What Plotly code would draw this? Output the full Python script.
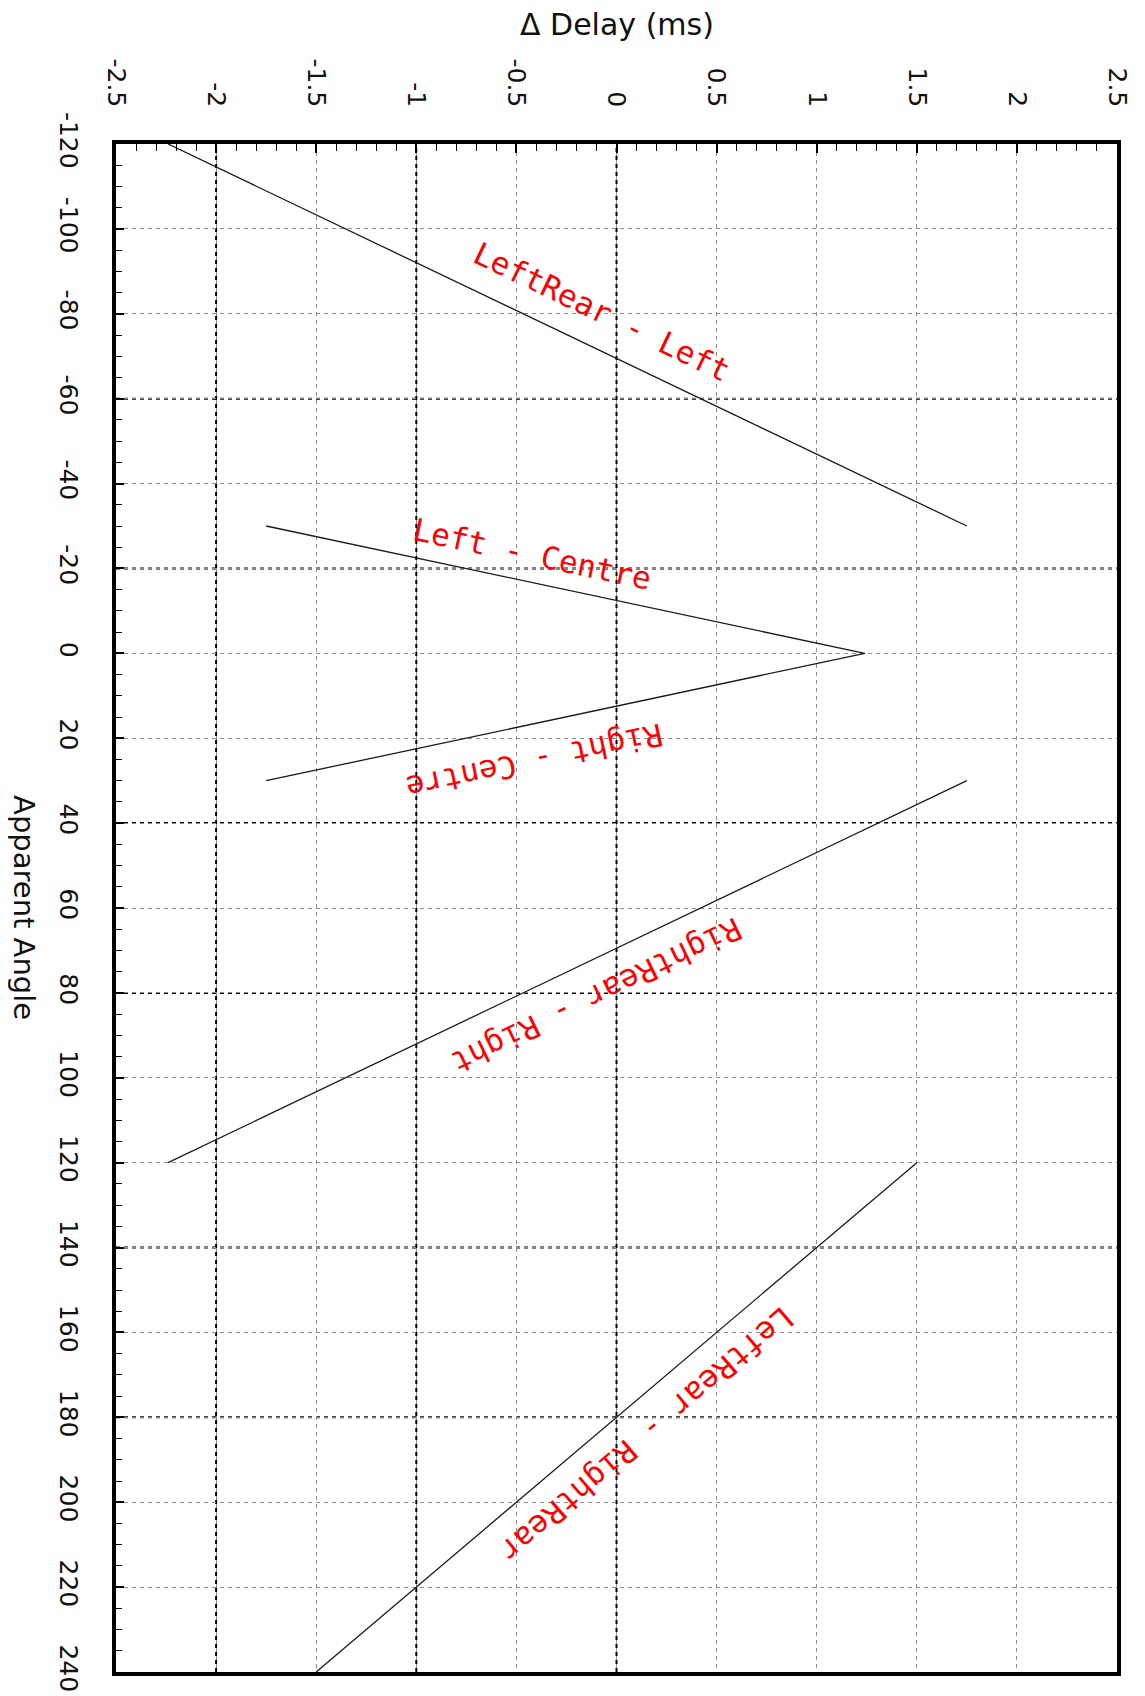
import plotly.graph_objects as go

# ---------------- data ----------------
# Apparent angle (deg) vs. delta delay (ms) for each speaker pair
lrear_left_angle = [-120, -30]
lrear_left_delay = [-2.24, 1.75]

left_centre_angle = [-30, 0]
left_centre_delay = [-1.75, 1.24]

right_centre_angle = [0, 30]
right_centre_delay = [1.24, -1.75]

rrear_right_angle = [30, 120]
rrear_right_delay = [1.75, -2.24]

lrear_rrear_angle = [120, 240]
lrear_rrear_delay = [1.5, -1.5]

series_labels = ["LeftRear - Left", "Left - Centre", "Right - Centre",
                 "RightRear - Right", "LeftRear - RightRear"]

delay_ticks = [-2.5, -2, -1.5, -1, -0.5, 0, 0.5, 1, 1.5, 2, 2.5]
delay_ticktext = ["-2.5", "-2", "-1.5", "-1", "-0.5", "0", "0.5", "1", "1.5", "2", "2.5"]
angle_ticks = [-120, -100, -80, -60, -40, -20, 0, 20, 40, 60, 80, 100, 120,
               140, 160, 180, 200, 220, 240]
angle_ticktext = [str(a) for a in angle_ticks]

# gridlines that appear darker in the original rendering
dark_delay_grid = [-2, -1, 0]
dark_angle_grid = [-60, -20, 40, 80, 140, 180]

# ---------------- figure ----------------
fig = go.Figure()
pairs = [
    (lrear_left_delay, lrear_left_angle),
    (left_centre_delay, left_centre_angle),
    (right_centre_delay, right_centre_angle),
    (rrear_right_delay, rrear_right_angle),
    (lrear_rrear_delay, lrear_rrear_angle),
]
for (d, a), name in zip(pairs, series_labels):
    fig.add_trace(go.Scatter(x=d, y=a, mode="lines", name=name,
                             line=dict(color="#1a1a1a", width=1.3),
                             showlegend=False, hoverinfo="skip"))

# label placement (style): centre in data coords + rotation
label_style = [
    dict(x=-0.07, y=-80.5, angle=25.7),
    dict(x=-0.42, y=-23.5, angle=12.0),
    dict(x=-0.41, y=25.4, angle=168.0),
    dict(x=-0.10, y=80.6, angle=154.2),
    dict(x=0.15, y=184.0, angle=139.6),
]
for text, st in zip(series_labels, label_style):
    fig.add_annotation(x=st["x"], y=st["y"], xref="x", yref="y", text=text,
                       textangle=st["angle"], showarrow=False,
                       font=dict(family="DejaVu Sans Mono", size=31, color="#ff0000"),
                       xanchor="center", yanchor="middle")

for v in dark_delay_grid:
    fig.add_shape(type="line", xref="x", yref="paper", x0=v, x1=v, y0=0, y1=1,
                  line=dict(color="#000000", width=2, dash="4px,4px"), layer="below")
for v in dark_angle_grid:
    fig.add_shape(type="line", xref="paper", yref="y", x0=0, x1=1, y0=v, y1=v,
                  line=dict(color="#000000", width=2, dash="4px,4px"), layer="below")

tickfont = dict(family="DejaVu Sans", size=25, color="#111111")

# note: the page body has an 8px default margin, margins compensate for it
fig.update_layout(
    width=1145, height=1696,
    margin=dict(l=108, r=36, t=136, b=27),
    paper_bgcolor="white", plot_bgcolor="white",
    xaxis=dict(
        side="top", range=[-2.5, 2.5],
        tickmode="array", tickvals=delay_ticks, ticktext=delay_ticktext,
        tickangle=90, tickfont=tickfont,
        ticks="inside", ticklen=9, tickwidth=1.5, tickcolor="black",
        ticklabelstandoff=24, ticklabeloverflow="allow",
        showline=True, linewidth=4, linecolor="black", mirror=True,
        showgrid=True, gridcolor="#8c8c8c", griddash="4px,4px", gridwidth=1,
        zeroline=False,
        minor=dict(tickmode="linear", tick0=0, dtick=0.1, ticks="inside",
                   ticklen=7, tickwidth=1.4, tickcolor="black", showgrid=False),
    ),
    yaxis=dict(
        range=[240, -120],
        tickmode="array", tickvals=angle_ticks, ticktext=angle_ticktext,
        tickangle=90, tickfont=tickfont,
        ticks="inside", ticklen=8, tickwidth=1.5, tickcolor="black",
        ticklabelstandoff=22, ticklabeloverflow="allow",
        showline=True, linewidth=4, linecolor="black", mirror=True,
        showgrid=True, gridcolor="#8c8c8c", griddash="4px,4px", gridwidth=1,
        zeroline=False,
        minor=dict(tickmode="linear", tick0=0, dtick=5, ticks="inside",
                   ticklen=6, tickwidth=1.4, tickcolor="black", showgrid=False),
    ),
)

fig.add_annotation(text="\u0394 Delay (ms)", xref="paper", yref="paper",
                   x=0.5, y=1.078, showarrow=False, xanchor="center", yanchor="middle",
                   font=dict(family="DejaVu Sans", size=30, color="#111111"))
fig.add_annotation(text="Apparent Angle", xref="paper", yref="paper",
                   x=-0.092, y=0.5, showarrow=False, textangle=90,
                   xanchor="center", yanchor="middle",
                   font=dict(family="DejaVu Sans", size=29, color="#111111"))

fig.write_html("out.html")
